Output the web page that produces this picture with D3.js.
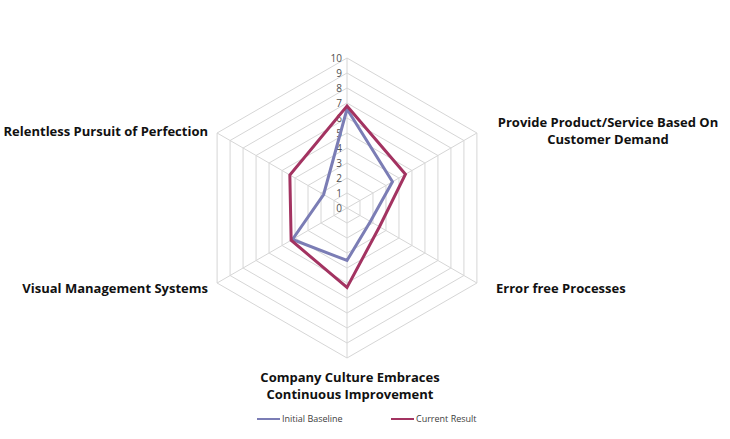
<!DOCTYPE html>
<html>
<head>
<meta charset="utf-8">
<script src="https://cdn.jsdelivr.net/npm/d3@7"></script>
<style>
  body { margin: 0; background: #fff; }
  .cat { font-family: "Open Sans", sans-serif; font-weight: bold; font-size: 13px; fill: #111; }
  .tick { font-family: "Open Sans", sans-serif; font-size: 10px; fill: #505050; }
  .leg { font-family: "Open Sans", sans-serif; font-size: 9px; fill: #404040; }
</style>
</head>
<body>
<div id="chart"></div>
<script>
// axes, clockwise from the top
var categories = ["", "Provide Product/Service Based On Customer Demand", "Error free Processes",
  "Company Culture Embraces Continuous Improvement", "Visual Management Systems", "Relentless Pursuit of Perfection"];
var baseline = [6.6, 3.5, 1.8, 3.5, 4.2, 1.8];
var current = [6.8, 4.5, 2.5, 5.3, 4.3, 4.4];
var ticks = [0, 1, 2, 3, 4, 5, 6, 7, 8, 9, 10];
var seriesNames = ["Initial Baseline", "Current Result"];
var colors = ["#7b7db5", "#a33361"];

var svgWidth = 730;
var svgHeight = 439;
var cx = 347, cy = 208;

var svg = d3.select("#chart")
  .append("svg")
  .attr("width", svgWidth)
  .attr("height", svgHeight);

var rScale = d3.scaleLinear().domain([0, 10]).range([0, 150]);
var angle = d3.scaleLinear().domain([0, categories.length]).range([0, 2 * Math.PI]);

var g = svg.append("g").attr("transform", `translate(${cx}, ${cy})`);

var radial = d3.lineRadial()
  .angle((d, i) => angle(i))
  .radius(d => rScale(d))
  .curve(d3.curveLinearClosed);

// grid rings
g.selectAll("path.ring")
  .data(ticks.slice(1))
  .enter()
  .append("path")
  .attr("class", "ring")
  .attr("d", t => radial(categories.map(() => t)))
  .attr("fill", "none")
  .attr("stroke", "#d6d6d6")
  .attr("stroke-width", 1);

// spokes
g.selectAll("line.spoke")
  .data(categories)
  .enter()
  .append("line")
  .attr("class", "spoke")
  .attr("x1", 0).attr("y1", 0)
  .attr("x2", (d, i) => rScale(10) * Math.sin(angle(i)))
  .attr("y2", (d, i) => -rScale(10) * Math.cos(angle(i)))
  .attr("stroke", "#d6d6d6")
  .attr("stroke-width", 1);

// tick labels
g.selectAll("text.tick")
  .data(ticks)
  .enter()
  .append("text")
  .attr("class", "tick")
  .attr("x", -5)
  .attr("y", d => -rScale(d) + 4)
  .attr("text-anchor", "end")
  .text(d => d);

// series
[baseline, current].forEach(function(vals, k) {
  g.append("path")
    .attr("d", radial(vals))
    .attr("fill", "none")
    .attr("stroke", colors[k])
    .attr("stroke-width", 3)
    .attr("stroke-linejoin", "miter");
});

// category labels
var labelPos = [
  null,
  { x: 608, y: 127, anchor: "middle", lines: ["Provide Product/Service Based On", "Customer Demand"] },
  { x: 496, y: 293, anchor: "start", lines: ["Error free Processes"] },
  { x: 350, y: 382, anchor: "middle", lines: ["Company Culture Embraces", "Continuous Improvement"] },
  { x: 208, y: 293, anchor: "end", lines: ["Visual Management Systems"] },
  { x: 208, y: 136, anchor: "end", lines: ["Relentless Pursuit of Perfection"] }
];
categories.forEach(function(c, i) {
  var p = labelPos[i];
  if (!p || !c) return;
  var t = svg.append("text")
    .attr("class", "cat")
    .attr("text-anchor", p.anchor);
  p.lines.forEach(function(l, j) {
    t.append("tspan").attr("x", p.x).attr("y", p.y + j * 17).text(l);
  });
});

// legend
var legX = [257, 391];
seriesNames.forEach(function(n, k) {
  svg.append("line")
    .attr("x1", legX[k]).attr("x2", legX[k] + 23)
    .attr("y1", 419).attr("y2", 419)
    .attr("stroke", colors[k])
    .attr("stroke-width", 2);
  svg.append("text")
    .attr("class", "leg")
    .attr("x", legX[k] + 25)
    .attr("y", 422)
    .text(n);
});
</script>
</body>
</html>
